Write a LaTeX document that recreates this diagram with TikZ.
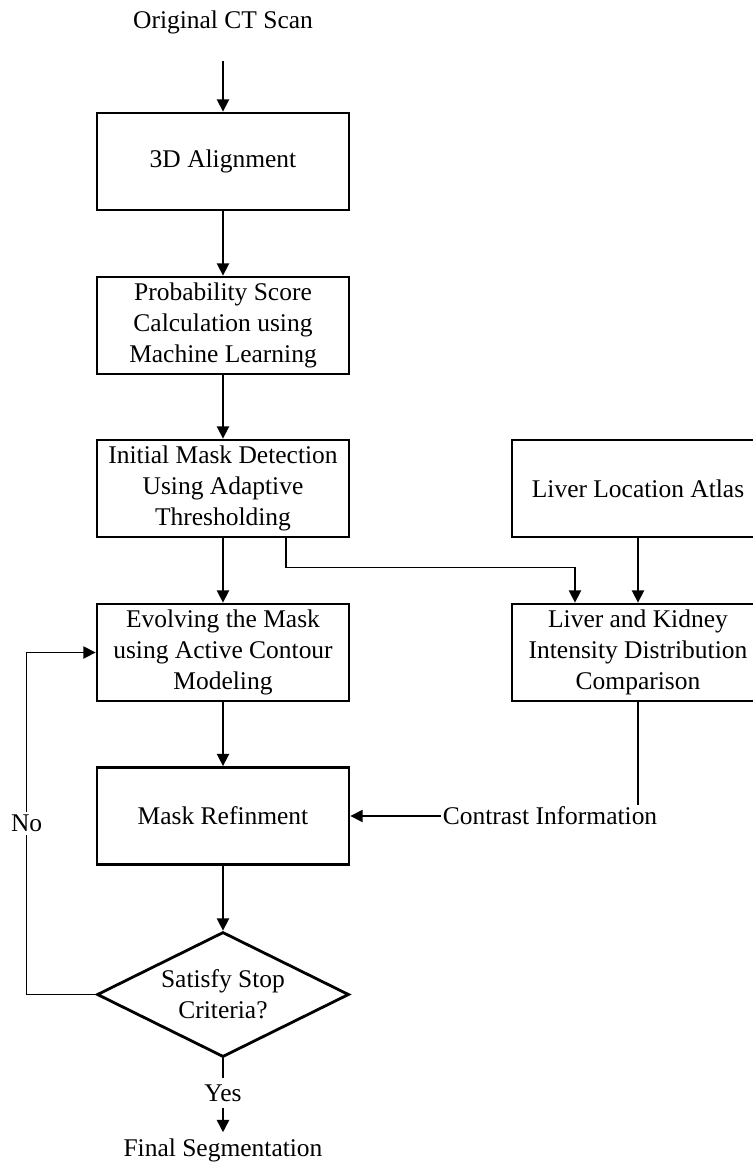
\documentclass[tikz,border=0pt]{standalone}
\usepackage{fontspec}
\setmainfont{Liberation Serif}
\usetikzlibrary{arrows.meta,shapes.geometric}

\begin{document}
\begin{tikzpicture}[x=0.2mm, y=-0.2mm, every node/.style={font=\fontsize{14.5}{17.5}\selectfont}, >={Triangle[length=7pt,width=7pt]},
	stepbox/.style={draw, line width=1.6pt, minimum width=50.4mm, minimum height=19.4mm, align=center, inner sep=2pt},
	link/.style={->, line width=0.9pt}]
	\clip (0,0) rectangle (753,1167);
	\node (scan) at (223,22) {Original CT Scan};
	\node[stepbox] (align) at (223,161.5) {3D Alignment};
	\node[stepbox] (prob) at (223,325.5) {Probability Score\\Calculation using\\Machine Learning};
	\node[stepbox] (thresh) at (223,488.5) {Initial Mask Detection\\Using Adaptive\\Thresholding};
	\node[stepbox] (atlas) at (638,488.5) {Liver Location Atlas};
	\node[stepbox] (evolve) at (223,652.5) {Evolving the Mask\\using Active Contour\\Modeling};
	\node[stepbox] (compare) at (638,652.5) {Liver and Kidney\\Intensity Distribution\\Comparison};
	\node[stepbox] (refine) at (223,816) {Mask Refinment};
	\node[draw, diamond, line width=1.6pt, aspect=2, inner sep=0pt, minimum width=50.4mm, minimum height=25mm, align=center] (decide) at (223,994.5) {Satisfy Stop\\Criteria?};
	\node[inner sep=1pt] (contrast) at (550,816) {Contrast Information};
	\node (yes) at (223,1093) {Yes};
	\node (final) at (223,1150) {Final Segmentation};
	\draw[link, shorten <=12pt] (scan.south) -- (align.north);
	\draw[link] (align.south) -- (prob.north);
	\draw[link] (prob.south) -- (thresh.north);
	\draw[link] (thresh.south) -- (evolve.north);
	\draw[link] ([xshift=12.6mm]thresh.south) -- ++(0,29) -| ([xshift=-12.6mm]compare.north);
	\draw[link] (atlas.south) -- (compare.north);
	\draw[link] (evolve.south) -- (refine.north);
	\draw[line width=0.9pt] (compare.south) -- (compare.south |- contrast.north);
	\draw[link] (contrast.west) -- (contrast.west -| refine.east);
	\draw[link] (refine.south) -- (decide.north);
	\draw[link] (decide.west) -- ++(-69,0) |- node[pos=0.25, fill=white, inner sep=2pt] {No} (evolve.west);
	\draw[line width=0.9pt] (decide.south) -- (yes.north);
	\draw[link] (yes.south) -- (final.north);
\end{tikzpicture}
\end{document}
